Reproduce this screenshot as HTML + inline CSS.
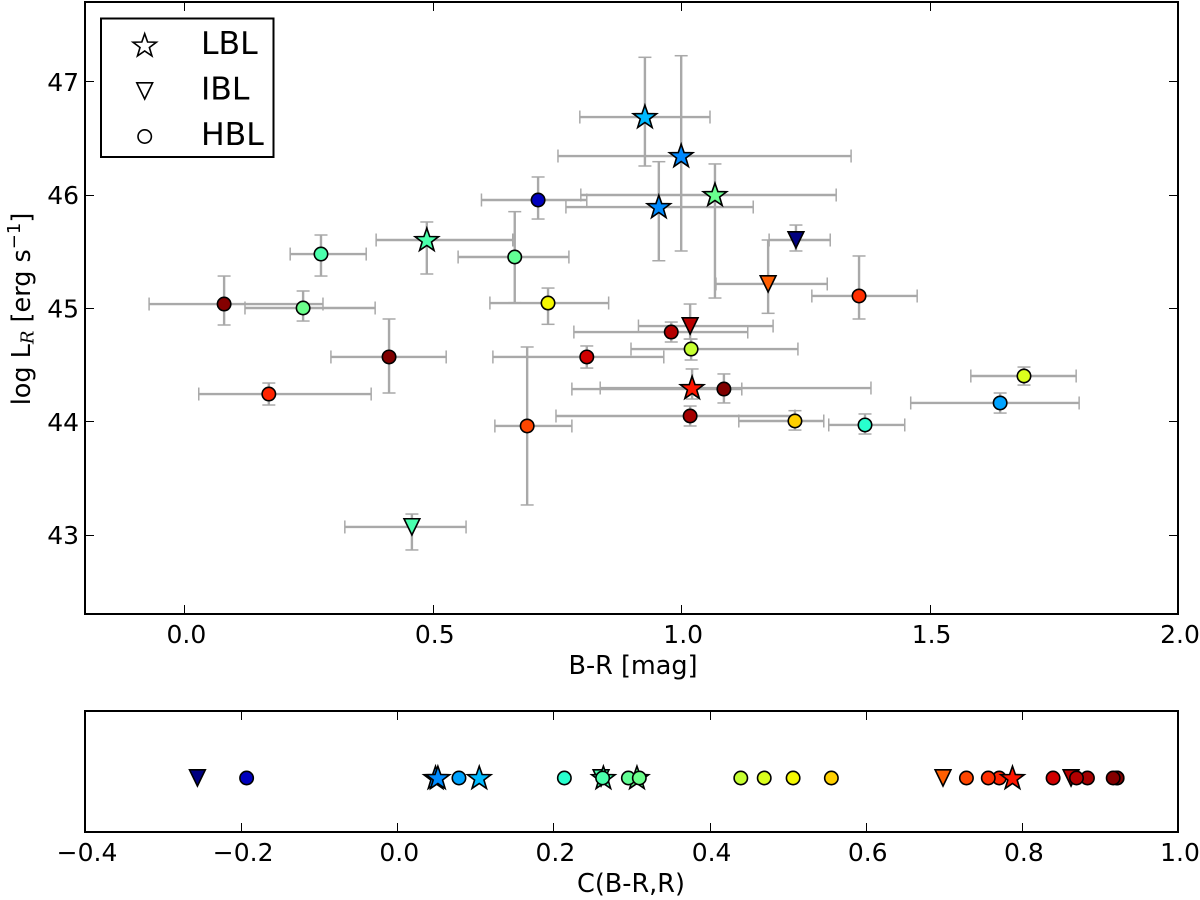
<!DOCTYPE html>
<html lang="en">
<head>
<meta charset="utf-8">
<title>Blazar colour-luminosity chart</title>
<style>
html,body{margin:0;padding:0;background:#fff;width:1200px;height:900px;overflow:hidden}
svg{display:block}
text{font-family:"DejaVu Sans","Liberation Sans",sans-serif;fill:#000}
</style>
</head>
<body>
<svg id="chart" xmlns="http://www.w3.org/2000/svg" width="1200" height="900" viewBox="0 0 1200 900"></svg>
<script>
const kinds = ['tri','tri','tri','tri','circ','star','star','star','star','star','star',
  'circ','circ','circ','circ','circ','circ','circ','circ','circ','circ','circ','circ','circ','circ','circ','circ','circ','circ'];
const sourceNames = ['T1','T2','T3','T4','h','S1','S2','S3','S4','S5','S6','a','b','c','d','e','g','m','f','i','j','n','k','l','o','p','q','r','s'];
const bR = [1.231,1.175,1.018,0.458,0.170,0.927,1.000,0.955,1.068,0.488,1.022,
  0.712,0.665,0.732,0.275,0.239,0.412,1.086,0.080,0.810,0.690,1.018,0.980,1.020,1.229,1.370,1.642,1.690,1.358];
const logL = [45.600,45.212,44.841,43.068,44.241,46.685,46.341,45.891,45.997,45.600,44.294,
  45.953,45.450,45.044,45.476,45.000,44.568,44.285,45.035,44.568,43.959,44.047,44.788,44.638,44.003,43.968,44.162,44.400,45.106];
const bRLow = [1.177,1.070,0.914,0.323,0.029,0.796,0.752,0.768,0.798,0.386,0.837,
  0.598,0.551,0.615,0.213,0.122,0.295,0.780,-0.071,0.621,0.625,0.748,0.784,0.899,1.116,1.297,1.462,1.583,1.263];
const bRHigh = [1.300,1.294,1.185,0.567,0.376,1.058,1.342,1.145,1.312,0.661,1.382,
  0.810,0.774,0.854,0.366,0.384,0.527,1.122,0.279,0.965,0.780,1.229,1.134,1.235,1.287,1.450,1.801,1.795,1.475];
const logLLow = [45.503,44.953,44.726,42.865,44.144,46.253,45.503,45.417,45.088,45.300,44.197,
  45.785,45.047,44.856,45.282,44.885,44.250,44.162,44.850,44.470,43.262,43.959,44.700,44.541,43.923,43.888,44.073,44.320,44.903];
const logLHigh = [45.732,45.600,45.035,43.182,44.338,47.212,47.226,46.291,46.271,45.759,44.462,
  46.156,45.850,45.176,45.644,45.150,44.903,44.418,45.282,44.665,44.656,44.135,44.876,44.726,44.094,44.065,44.250,44.479,45.459];
const colorIndex = [-0.256,0.699,0.863,0.261,0.771,0.105,0.049,0.052,0.307,0.264,0.788,
  -0.193,0.296,0.507,0.263,0.310,0.922,0.922,0.917,0.840,0.729,0.884,0.870,0.44,0.556,0.214,0.079,0.47,0.757];
const mainXTicks = [0.0,0.5,1.0,1.5,2.0];
const mainYTicks = [43,44,45,46,47];
const lowerXTicks = [-0.4,-0.2,0.0,0.2,0.4,0.6,0.8,1.0];
const legendLabels = ['LBL','IBL','HBL'];
const legendKinds = ['star','tri','circ'];

const NS = 'http://www.w3.org/2000/svg';
const svg = document.getElementById('chart');
const M = {l:85, r:1178, t:2, b:614, xMin:-0.2, xMax:2.0, yMin:42.3, yMax:47.7};
const L = {l:85, r:1178, t:711, b:832, xMin:-0.4, xMax:1.0};
const mx = v => M.l + (v - M.xMin) / (M.xMax - M.xMin) * (M.r - M.l);
const my = v => M.b - (v - M.yMin) / (M.yMax - M.yMin) * (M.b - M.t);
const lx = v => L.l + (v - L.xMin) / (L.xMax - L.xMin) * (L.r - L.l);
const LOWER_Y = 778;

function mk(tag, attrs, parent) {
  const e = document.createElementNS(NS, tag);
  for (const k in attrs) e.setAttribute(k, attrs[k]);
  (parent || svg).appendChild(e);
  return e;
}
function ramp(t, pts) {
  for (let i = 1; i < pts.length; i++) {
    if (t <= pts[i][0]) {
      const a = pts[i-1], b = pts[i];
      return a[1] + (b[1]-a[1]) * (t-a[0]) / (b[0]-a[0]);
    }
  }
  return pts[pts.length-1][1];
}
function jet(c) {
  const lo = Math.min(...colorIndex), hi = Math.max(...colorIndex);
  const t = Math.max(0, Math.min(1, (c-lo)/(hi-lo)));
  const r = ramp(t, [[0,0],[0.35,0],[0.66,1],[0.89,1],[1,0.5]]);
  const g = ramp(t, [[0,0],[0.125,0],[0.375,1],[0.64,1],[0.91,0],[1,0]]);
  const b = ramp(t, [[0,0.5],[0.11,1],[0.34,1],[0.65,0],[1,0]]);
  return 'rgb(' + [r,g,b].map(v => Math.round(v*255)).join(',') + ')';
}
function starPoints(cx, cy, R) {
  const pts = [], r = R * 0.40;
  for (let i = 0; i < 10; i++) {
    const a = -Math.PI/2 + i*Math.PI/5, q = i%2 ? r : R;
    pts.push((cx + q*Math.cos(a)).toFixed(2) + ',' + (cy + q*Math.sin(a)).toFixed(2));
  }
  return pts.join(' ');
}
function marker(kind, cx, cy, fill, parent, sw) {
  const base = {fill: fill, stroke: '#000', 'stroke-width': sw, 'stroke-linejoin': 'miter'};
  if (kind === 'star') {
    return mk('polygon', Object.assign({points: starPoints(cx, cy+0.5, 12.3)}, base), parent);
  }
  if (kind === 'tri') {
    return mk('polygon', Object.assign({points: (cx-7.9)+','+(cy-8.2)+' '+(cx+7.9)+','+(cy-8.2)+' '+cx+','+(cy+8)}, base), parent);
  }
  return mk('circle', Object.assign({cx: cx, cy: cy, r: 6.7}, base), parent);
}
function frame(x, y, w, h, name) {
  const f = mk('rect', {x:x, y:y, width:w, height:h, fill:'none', stroke:'#000', 'stroke-width':2});
  
  
}

// --- main panel: error bars
const bars = mk('g', {stroke:'#a9a9a9', 'stroke-width':2.4, fill:'none'});


kinds.forEach((k, i) => {
  const x = mx(bR[i]), y = my(logL[i]);
  const x0 = mx(bRLow[i]), x1 = mx(bRHigh[i]), y0 = my(logLLow[i]), y1 = my(logLHigh[i]);
  const g = mk('g', {}, bars);
  
  
  mk('line', {x1:x0, x2:x1, y1:y, y2:y}, g);
  mk('line', {x1:x, x2:x, y1:y0, y2:y1}, g);
  [x0, x1].forEach(c => mk('line', {x1:c, x2:c, y1:y-6.5, y2:y+6.5, 'stroke-width':1.5}, g));
  [y0, y1].forEach(c => mk('line', {x1:x-6.5, x2:x+6.5, y1:c, y2:c, 'stroke-width':1.5}, g));
});

// --- main panel: markers
const marks = mk('g', {});


kinds.forEach((k, i) => {
  const m = marker(k, mx(bR[i]), my(logL[i]), jet(colorIndex[i]), marks, 1.6);
  
  
});

// --- main panel: frame, ticks, labels
frame(M.l, M.t, M.r-M.l, M.b-M.t, 'main-plot-frame');
const mainTicks = mk('g', {stroke:'#000', 'stroke-width':1});


mainXTicks.forEach(v => {
  const x = Math.round(mx(v)) + 0.5;
  mk('line', {x1:x, x2:x, y1:M.b, y2:M.b-9}, mainTicks);
  mk('line', {x1:x, x2:x, y1:M.t, y2:M.t+9}, mainTicks);
  const t = mk('text', {x:mx(v)+2, y:643, 'font-size':25, 'text-anchor':'middle', stroke:'none'});
  t.textContent = v.toFixed(1);
  
  
});
mainYTicks.forEach(v => {
  const y = Math.round(my(v)) + 0.5;
  mk('line', {x1:M.l, x2:M.l+9, y1:y, y2:y}, mainTicks);
  mk('line', {x1:M.r, x2:M.r-9, y1:y, y2:y}, mainTicks);
  const t = mk('text', {x:79, y:my(v)+9.5, 'font-size':25, 'text-anchor':'end', stroke:'none'});
  t.textContent = String(v);
  
  
});
const xTitle = mk('text', {x:633, y:674, 'font-size':25.5, 'text-anchor':'middle'});
xTitle.textContent = 'B-R [mag]';



const yTitle = mk('text', {transform:'translate(30,309) rotate(-90)', 'font-size':25.5, 'text-anchor':'middle'});


mk('tspan', {}, yTitle).textContent = 'log L';
mk('tspan', {dy:3.5, 'font-size':18, 'font-style':'italic', 'font-family':'"DejaVu Serif",serif'}, yTitle).textContent = 'R';
mk('tspan', {dy:-3.5}, yTitle).textContent = ' [erg s';
mk('tspan', {dy:-10, 'font-size':18}, yTitle).textContent = '\u22121';
mk('tspan', {dy:10}, yTitle).textContent = ']';

// --- legend
const legend = mk('g', {});


mk('rect', {x:101, y:18.5, width:172.5, height:138.5, fill:'#fff', stroke:'#000', 'stroke-width':2}, legend);
legendLabels.forEach((lab, i) => {
  const cy = 45.5 + i*45.5;
  const g = mk('g', {}, legend);
  
  
  marker(legendKinds[i], 144.7, cy, '#fff', g, 1.6);
  const t = mk('text', {x:201, y:cy + 8.5, 'font-size':31.5}, g);
  t.textContent = lab;
});

// --- lower panel
const lowerMarks = mk('g', {});


kinds.forEach((k, i) => {
  const m = marker(k, lx(colorIndex[i]), LOWER_Y, jet(colorIndex[i]), lowerMarks, 1.6);
  
  
});
frame(L.l, L.t, L.r-L.l, L.b-L.t, 'lower-plot-frame');
const lowerTicks = mk('g', {stroke:'#000', 'stroke-width':1});


lowerXTicks.forEach(v => {
  const x = Math.round(lx(v)) + 0.5;
  mk('line', {x1:x, x2:x, y1:L.b, y2:L.b-9}, lowerTicks);
  mk('line', {x1:x, x2:x, y1:L.t, y2:L.t+9}, lowerTicks);
  const t = mk('text', {x:lx(v)+2, y:861, 'font-size':25, 'text-anchor':'middle', stroke:'none'});
  t.textContent = v.toFixed(1).replace('-', '\u2212');
  
  
});
const lTitle = mk('text', {x:631, y:892, 'font-size':25.5, 'text-anchor':'middle'});
lTitle.textContent = 'C(B-R,R)';


</script>
</body>
</html>
